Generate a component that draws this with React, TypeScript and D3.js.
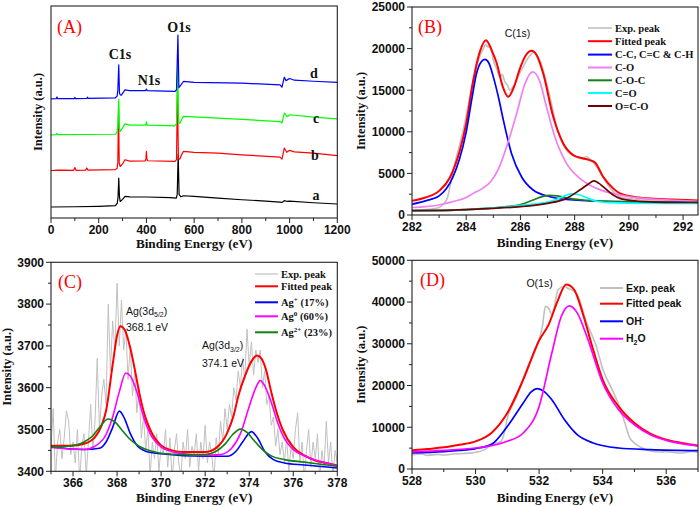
import React from "react";
import * as d3 from "d3";

type Pt = [number, number];

// ---------------- Panel A : survey spectra ----------------
const aXTicks = [0, 200, 400, 600, 800, 1000, 1200];
const aXMinor = [100, 300, 500, 700, 900, 1100];
const aSpecA: Pt[] = [
  [0, 5.2], [100, 5.3], [200, 5.5], [270, 5.8], [278, 7], [281, 10], [284, 18.8], [287, 10], [290, 7.8],
  [300, 8.8], [310, 10.2], [330, 10], [400, 9.9], [500, 9.6], [525, 9.4], [529, 11], [533, 30], [537, 11],
  [545, 10], [555, 10.5], [600, 10.2], [700, 9.4], [800, 8.6], [900, 8], [960, 7.5], [968, 7.3], [978, 8.2],
  [990, 7.8], [1000, 8], [1100, 7.2], [1200, 6.6],
];
const aSpecB: Pt[] = [
  [0, 22.4], [30, 22.6], [95, 22.5], [100, 23.8], [105, 22.5], [145, 22.6], [150, 23.6], [155, 22.6],
  [270, 22.8], [277, 23.5], [280, 26], [283, 52], [286, 26], [290, 24.3], [300, 25.5], [310, 27.5],
  [330, 26.8], [395, 26.9], [398, 28], [400, 31.4], [402, 28], [405, 27], [520, 26.7], [526, 27.5],
  [530, 60], [534, 28], [540, 27.8], [548, 30], [555, 31.4], [600, 31], [700, 30.6], [800, 29.8],
  [960, 28.7], [968, 27.8], [978, 33], [988, 31], [1000, 31.9], [1020, 31.2], [1100, 30.6], [1200, 29.4],
];
const aSpecC: Pt[] = [
  [0, 39.2], [22, 39.3], [25, 39.9], [30, 39.3], [270, 39.5], [277, 40.5], [280, 43], [284, 56], [287, 42],
  [290, 40.8], [300, 42.5], [310, 44.4], [330, 43.8], [397, 43.8], [400, 45.4], [403, 43.8], [520, 43.5],
  [526, 44.5], [531, 72], [535, 45], [540, 44.6], [548, 46.5], [555, 47.9], [700, 47.1], [960, 45.5],
  [968, 44.8], [978, 49.5], [990, 47.8], [1000, 48.7], [1100, 47.6], [1200, 46.8],
];
const aSpecD: Pt[] = [
  [0, 56.2], [22, 56.3], [25, 57.1], [28, 56.3], [98, 56.3], [100, 56.9], [102, 56.3], [150, 56.4],
  [153, 57], [156, 56.4], [270, 56.7], [277, 57.5], [280, 60], [284, 72.2], [287, 59], [290, 58.1],
  [295, 58], [310, 60.4], [330, 60.1], [397, 60.1], [400, 60.8], [403, 60.1], [520, 59.7], [526, 60.5],
  [532, 86.3], [536, 61.5], [545, 62.8], [555, 64.4], [600, 64], [800, 63.6], [960, 62.8], [968, 61.7],
  [978, 66.4], [985, 64.8], [1000, 65.8], [1020, 65], [1100, 64.5], [1200, 64],
];
const aPeakLabels = ["C1s", "N1s", "O1s"];
const aCurveLabels = ["a", "b", "c", "d"];

// ---------------- Panel B : C(1s) ----------------
const bXTicks = [282, 284, 286, 288, 290, 292];
const bXMinor = [283, 285, 287, 289, 291];
const bYTicks = [0, 5000, 10000, 15000, 20000, 25000];
const bYMinor = [2500, 7500, 12500, 17500, 22500];
const bExp: Pt[] = [
  [282, 600], [282.5, 650], [283, 900], [283.15, 1300], [283.3, 2000], [283.52, 5400], [283.89, 10200],
  [284.26, 16200], [284.45, 18600], [284.63, 20000], [284.72, 20500], [284.81, 20200], [284.9, 20300],
  [285.0, 18600], [285.12, 17600], [285.24, 16600], [285.32, 16900], [285.43, 16000], [285.52, 15600],
  [285.61, 15000], [285.7, 15300], [285.8, 15800], [285.95, 16900], [286.1, 17800], [286.25, 18700],
  [286.41, 19400], [286.5, 19600], [286.6, 19200], [286.7, 18700], [286.84, 17400], [287.09, 14200],
  [287.2, 12600], [287.33, 10600], [287.5, 9000], [287.7, 7800], [287.9, 7200], [288.07, 7000],
  [288.25, 6800], [288.44, 7000], [288.6, 6600], [288.81, 5800], [289.0, 4800], [289.18, 3800],
  [289.4, 2900], [289.67, 2200], [290.2, 1900], [291, 1700], [292, 1550], [292.55, 1500],
];
const bFit: Pt[] = [
  [282, 1700], [282.5, 2100], [283, 2900], [283.4, 4500], [283.77, 7800], [284.0, 11000], [284.26, 16200],
  [284.5, 19600], [284.73, 21000], [284.95, 19700], [285.12, 18300], [285.35, 15400], [285.55, 14200],
  [285.75, 15300], [285.98, 17600], [286.2, 19200], [286.41, 19750], [286.6, 19200], [286.84, 17000],
  [287.21, 11800], [287.58, 8600], [287.95, 7200], [288.3, 6800], [288.55, 6600], [288.75, 6300],
  [289.05, 4600], [289.42, 3200], [289.67, 2600], [290.16, 2200], [290.64, 2000], [291.6, 1850],
  [292.55, 1750],
];
const bCC: Pt[] = [
  [282, 1300], [282.5, 1700], [283, 2300], [283.5, 4500], [283.75, 6700], [284.0, 10000], [284.2, 13800],
  [284.38, 17000], [284.55, 18400], [284.69, 18700], [284.83, 18300], [285.0, 16600], [285.2, 14000],
  [285.37, 11400], [285.67, 7400], [286.04, 4600], [286.47, 3000], [287.09, 2200], [287.95, 1800],
  [289.67, 1600], [292.55, 1500],
];
const bCO: Pt[] = [
  [282, 900], [282.5, 1000], [283, 1200], [283.5, 1600], [284, 2100], [284.26, 2600], [284.6, 3200],
  [284.9, 4000], [285.2, 5600], [285.49, 8200], [285.86, 12200], [286.17, 15800], [286.45, 17200],
  [286.72, 16000], [286.96, 13000], [287.27, 9400], [287.7, 6200], [288.19, 4400], [288.81, 3200],
  [289.67, 2400], [290.5, 2000], [291.5, 1800], [292.55, 1650],
];
const bCOC: Pt[] = [
  [282, 500], [283, 530], [284, 650], [285, 850], [285.5, 1000], [286, 1250], [286.47, 1800], [286.8, 2200],
  [287.09, 2350], [287.35, 2300], [287.58, 2150], [288.0, 1900], [288.5, 1750], [289.5, 1600],
  [290.5, 1550], [292.55, 1500],
];
const bCdO: Pt[] = [
  [282, 500], [283, 530], [284, 650], [285, 850], [286, 1150], [286.47, 1300], [287.09, 1600],
  [287.5, 2100], [287.7, 2400], [287.95, 2550], [288.2, 2400], [288.5, 2000], [288.81, 1650],
  [289.3, 1480], [290, 1420], [292.55, 1400],
];
const bOCO: Pt[] = [
  [282, 520], [283, 550], [284, 650], [285, 800], [286, 1000], [286.5, 1150], [287, 1400], [287.7, 2000],
  [288.19, 3000], [288.5, 3700], [288.71, 4100], [288.9, 3800], [289.05, 3400], [289.42, 2400],
  [289.67, 2000], [290.2, 1700], [291, 1550], [292.55, 1500],
];
const bLegend = ["Exp. peak", "Fitted peak", "C-C, C=C & C-H", "C-O", "C-O-C", "C=O", "O=C-O"];

// ---------------- Panel C : Ag(3d) ----------------
const cXTicks = [366, 368, 370, 372, 374, 376, 378];
const cXMinor = [365, 367, 369, 371, 373, 375, 377];
const cYTicks = [3400, 3500, 3600, 3700, 3800, 3900];
const cYMinor = [3450, 3550, 3650, 3750, 3850];
const cExpStart = 365;
const cExpStep = 0.1;
const cExpValues = [
  3460, 3550, 3380, 3470, 3500, 3430, 3480, 3545, 3520, 3440,
  3470, 3420, 3500, 3380, 3460, 3490, 3390, 3470, 3560, 3450,
  3520, 3670, 3500, 3580, 3620, 3560, 3800, 3640, 3760, 3690,
  3850, 3700, 3810, 3690, 3740, 3620, 3700, 3580, 3640, 3540,
  3600, 3480, 3530, 3450, 3500, 3390, 3470, 3430, 3490, 3400,
  3460, 3440, 3500, 3410, 3480, 3380, 3450, 3490, 3420, 3390,
  3470, 3430, 3500, 3410, 3460, 3440, 3490, 3400, 3470, 3430,
  3510, 3420, 3470, 3440, 3380, 3480, 3440, 3520, 3470, 3550,
  3500, 3560, 3530, 3600, 3570, 3640, 3600, 3670, 3620, 3740,
  3650, 3710, 3630, 3690, 3660, 3690, 3600, 3640, 3560, 3580,
  3510, 3530, 3460, 3500, 3440, 3470, 3420, 3480, 3400, 3460,
  3430, 3500, 3540, 3420, 3470, 3380, 3450, 3500, 3410, 3470,
  3430, 3490, 3380, 3450, 3410, 3520, 3420, 3470, 3390, 3450,
  3420,
];
const cFit: Pt[] = [
  [365, 3461], [366, 3462], [366.5, 3466], [367, 3482], [367.3, 3510], [367.5, 3545], [367.8, 3655],
  [368, 3725], [368.15, 3747], [368.35, 3738], [368.6, 3695], [368.8, 3645], [369, 3590], [369.25, 3535],
  [369.5, 3500], [370, 3462], [370.5, 3450], [371, 3446], [372, 3446], [372.5, 3456], [373, 3492],
  [373.3, 3535], [373.5, 3579], [373.8, 3627], [374.1, 3663], [374.35, 3677], [374.55, 3670],
  [374.75, 3645], [375, 3590], [375.25, 3540], [375.5, 3502], [376, 3458], [376.5, 3438], [377, 3426],
  [377.5, 3420], [378, 3414],
];
const cAgPlus: Pt[] = [
  [365, 3458], [366.5, 3452], [367.2, 3455], [367.5, 3470], [367.8, 3505], [368.1, 3544], [368.35, 3525],
  [368.6, 3490], [368.9, 3462], [369.3, 3448], [370, 3442], [372, 3436], [373, 3436], [373.4, 3448],
  [373.7, 3470], [374.1, 3495], [374.4, 3478], [374.7, 3448], [375.1, 3428], [375.6, 3420], [376.5, 3415],
  [378, 3408],
];
const cAgZero: Pt[] = [
  [365, 3457], [366, 3453], [366.5, 3452], [367, 3460], [367.5, 3488], [367.8, 3530], [368.1, 3590],
  [368.4, 3635], [368.6, 3628], [368.9, 3590], [369.2, 3530], [369.5, 3490], [370, 3458], [370.5, 3447],
  [371, 3442], [372, 3438], [372.7, 3440], [373.2, 3455], [373.6, 3490], [374, 3555], [374.3, 3600],
  [374.5, 3617], [374.7, 3605], [375, 3565], [375.3, 3515], [375.6, 3478], [376, 3452], [376.5, 3437],
  [377, 3427], [377.5, 3420], [378, 3413],
];
const cAgTwo: Pt[] = [
  [365, 3458], [365.8, 3460], [366.5, 3470], [366.9, 3485], [367.2, 3505], [367.6, 3525], [367.9, 3518],
  [368.2, 3500], [368.6, 3476], [369, 3460], [369.5, 3449], [370, 3443], [371, 3440], [372, 3440],
  [372.5, 3448], [372.9, 3465], [373.25, 3488], [373.6, 3501], [373.9, 3493], [374.2, 3475], [374.6, 3452],
  [375, 3437], [375.6, 3428], [376.5, 3422], [378, 3412],
];

// ---------------- Panel D : O(1s) ----------------
const dXTicks = [528, 530, 532, 534, 536];
const dXMinor = [529, 531, 533, 535, 537];
const dYTicks = [0, 10000, 20000, 30000, 40000, 50000];
const dYMinor = [5000, 15000, 25000, 35000, 45000];
const dExp: Pt[] = [
  [528, 3430], [528.3, 3600], [528.5, 3270], [528.8, 3500], [529, 3350], [529.3, 3600], [529.5, 3670],
  [529.8, 3800], [530, 4000], [530.3, 4700], [530.5, 5830], [530.8, 6630], [530.9, 8500], [531, 12200],
  [531.3, 17400], [531.6, 23800], [531.8, 27000], [532, 31000], [532.1, 34000], [532.2, 39000],
  [532.3, 38500], [532.4, 37000], [532.6, 43000], [532.8, 43800], [532.9, 43300], [533, 43000],
  [533.2, 41800], [533.5, 35000], [533.8, 29400], [534, 24000], [534.3, 19000], [534.5, 15500],
  [534.7, 11000], [534.85, 7500], [535, 6200], [535.2, 5200], [535.5, 4300], [535.8, 4070], [536, 4150],
  [536.3, 3900], [536.5, 3830], [536.8, 4200], [537, 4000],
];
const dFit: Pt[] = [
  [528, 4470], [528.5, 4800], [529, 5190], [529.5, 5830], [530, 6630], [530.5, 8630], [531, 13400],
  [531.5, 21400], [532, 30800], [532.3, 34600], [532.6, 40600], [532.85, 44200], [533.1, 43000],
  [533.4, 36600], [533.7, 28600], [534, 21400], [534.5, 15000], [535, 11000], [535.5, 8470], [536, 7030],
  [536.5, 6230], [537, 5590],
];
const dOH: Pt[] = [
  [528, 3830], [529, 4150], [529.5, 4450], [530, 4900], [530.5, 5900], [531, 10200], [531.5, 15800],
  [531.75, 18500], [531.95, 19250], [532.15, 18600], [532.4, 16600], [532.8, 11800], [533.2, 8230],
  [533.7, 6230], [534.5, 5030], [535.5, 4630], [537, 4390],
];
const dH2O: Pt[] = [
  [528, 4150], [529, 4470], [530, 5030], [530.5, 5590], [531, 6630], [531.5, 8630], [532, 15000],
  [532.4, 27800], [532.7, 36600], [532.95, 39100], [533.2, 37400], [533.5, 31800], [534, 20600],
  [534.5, 14200], [535, 10600], [535.5, 8230], [536, 6870], [537, 5590],
];

// ---------------- styling ----------------
const SERIF = "'Liberation Serif', 'Times New Roman', serif";
const SANS = "'Liberation Sans', Arial, sans-serif";
const GRAY = "#c0c0c0";

type Series = { data: Pt[]; color: string; width: number; smooth?: boolean };
type PanelCfg = {
  id: string;
  left: number; right: number; top: number; bottom: number;
  xDomain: [number, number]; yDomain: [number, number];
  xTicks: number[]; xMinor: number[];
  yTicks: number[] | null; yMinor: number[] | null;
  series: Series[];
  xTitleY: number; yTitleX: number;
};

function Panel({ cfg }: { cfg: PanelCfg }) {
  const x = d3.scaleLinear().domain(cfg.xDomain).range([cfg.left, cfg.right]);
  const y = d3.scaleLinear().domain(cfg.yDomain).range([cfg.bottom, cfg.top]);
  const clipId = "clip-" + cfg.id;
  const midX = (cfg.left + cfg.right) / 2;
  const midY = (cfg.top + cfg.bottom) / 2;
  return (
    <g>
      <defs>
        <clipPath id={clipId}>
          <rect x={cfg.left} y={cfg.top} width={cfg.right - cfg.left} height={cfg.bottom - cfg.top} />
        </clipPath>
      </defs>
      <g clipPath={`url(#${clipId})`}>
        {cfg.series.map((s, i) => {
          const line = d3
            .line<Pt>()
            .x((d) => x(d[0]))
            .y((d) => y(d[1]))
            .curve(s.smooth ? d3.curveMonotoneX : d3.curveLinear);
          return (
            <path key={i} d={line(s.data) || ""} fill="none" stroke={s.color} strokeWidth={s.width}
              strokeLinejoin="round" strokeLinecap="round" />
          );
        })}
      </g>
      <rect x={cfg.left} y={cfg.top} width={cfg.right - cfg.left} height={cfg.bottom - cfg.top}
        fill="none" stroke="#222" strokeWidth={1.1} />
      {cfg.xTicks.map((t) => (
        <g key={"xt" + t}>
          <line x1={x(t)} x2={x(t)} y1={cfg.bottom} y2={cfg.bottom + 5} stroke="#222" strokeWidth={1} />
          <text x={x(t)} y={cfg.bottom + 16} textAnchor="middle" fontFamily={SANS} fontWeight="bold" fontSize={12} fill="#111">
            {t}
          </text>
        </g>
      ))}
      {cfg.xMinor.map((t) => (
        <line key={"xm" + t} x1={x(t)} x2={x(t)} y1={cfg.bottom} y2={cfg.bottom + 3} stroke="#222" strokeWidth={1} />
      ))}
      {cfg.yTicks &&
        cfg.yTicks.map((t) => (
          <g key={"yt" + t}>
            <line x1={cfg.left - 5} x2={cfg.left} y1={y(t)} y2={y(t)} stroke="#222" strokeWidth={1} />
            <text x={cfg.left - 7} y={y(t) + 4.3} textAnchor="end" fontFamily={SANS} fontWeight="bold" fontSize={12} fill="#111">
              {t}
            </text>
          </g>
        ))}
      {cfg.yMinor &&
        cfg.yMinor.map((t) => (
          <line key={"ym" + t} x1={cfg.left - 3} x2={cfg.left} y1={y(t)} y2={y(t)} stroke="#222" strokeWidth={1} />
        ))}
      <text x={midX} y={cfg.xTitleY} textAnchor="middle" fontFamily={SERIF} fontWeight="bold" fontSize={13.2} fill="#111">
        Binding Energy (eV)
      </text>
      <text transform={`translate(${cfg.yTitleX},${midY}) rotate(-90)`} textAnchor="middle" fontFamily={SERIF}
        fontWeight="bold" fontSize={12.5} fill="#111">
        Intensity (a.u.)
      </text>
    </g>
  );
}

function LegendRow({ x1, x2, y, color, width, font, children }: any) {
  return (
    <g>
      <line x1={x1} x2={x2} y1={y} y2={y} stroke={color} strokeWidth={width} />
      <text x={x2 + 3} y={y + 3.6} fontFamily={font} fontWeight="bold" fontSize={10.5} fill="#111">
        {children}
      </text>
    </g>
  );
}

export default function App() {
  const panelA: PanelCfg = {
    id: "A", left: 51, right: 337.3, top: 6, bottom: 218,
    xDomain: [0, 1200], yDomain: [0, 100],
    xTicks: aXTicks, xMinor: aXMinor, yTicks: null, yMinor: null,
    series: [
      { data: aSpecA, color: "#000000", width: 1.2 },
      { data: aSpecB, color: "#ff0000", width: 1.2 },
      { data: aSpecC, color: "#00ff00", width: 1.2 },
      { data: aSpecD, color: "#0000ff", width: 1.2 },
    ],
    xTitleY: 248, yTitleX: 42,
  };
  const panelB: PanelCfg = {
    id: "B", left: 412, right: 698, top: 7, bottom: 215,
    xDomain: [282, 292.55], yDomain: [0, 25000],
    xTicks: bXTicks, xMinor: bXMinor, yTicks: bYTicks, yMinor: bYMinor,
    series: [
      { data: bExp, color: GRAY, width: 1.6, smooth: true },
      { data: bFit, color: "#ff0000", width: 2, smooth: true },
      { data: bCC, color: "#0000ff", width: 1.7, smooth: true },
      { data: bCO, color: "#f080f0", width: 1.7, smooth: true },
      { data: bCOC, color: "#1a7f1a", width: 1.7, smooth: true },
      { data: bCdO, color: "#00ffff", width: 1.7, smooth: true },
      { data: bOCO, color: "#700000", width: 1.7, smooth: true },
    ],
    xTitleY: 246.5, yTitleX: 364.6,
  };
  const panelC: PanelCfg = {
    id: "C", left: 51, right: 337.3, top: 262.3, bottom: 471.3,
    xDomain: [365, 378], yDomain: [3400, 3900],
    xTicks: cXTicks, xMinor: cXMinor, yTicks: cYTicks, yMinor: cYMinor,
    series: [
      { data: cExpValues.map((v, i) => [cExpStart + i * cExpStep, v] as Pt), color: GRAY, width: 1 },
      { data: cFit, color: "#ff0000", width: 2, smooth: true },
      { data: cAgPlus, color: "#0000ff", width: 1.6, smooth: true },
      { data: cAgZero, color: "#ff00ff", width: 1.6, smooth: true },
      { data: cAgTwo, color: "#118011", width: 1.6, smooth: true },
    ],
    xTitleY: 501.5, yTitleX: 11.3,
  };
  const panelD: PanelCfg = {
    id: "D", left: 412, right: 698, top: 260.3, bottom: 469,
    xDomain: [528, 537], yDomain: [0, 50000],
    xTicks: dXTicks, xMinor: dXMinor, yTicks: dYTicks, yMinor: dYMinor,
    series: [
      { data: dExp, color: GRAY, width: 1.6, smooth: true },
      { data: dFit, color: "#ff0000", width: 2, smooth: true },
      { data: dOH, color: "#0000ff", width: 1.7, smooth: true },
      { data: dH2O, color: "#ff00ff", width: 1.7, smooth: true },
    ],
    xTitleY: 501.5, yTitleX: 364.6,
  };

  const bColors = [GRAY, "#ff0000", "#0000ff", "#f080f0", "#1a7f1a", "#00ffff", "#700000"];
  const bRowY = [28, 41.2, 54.6, 67.5, 80.3, 93, 106];

  return (
    <svg width={700} height={506} style={{ position: "absolute", left: 0, top: 0, background: "#fff" }}>
      <rect x={0} y={0} width={700} height={506} fill="#fff" />
      <Panel cfg={panelA} />
      <Panel cfg={panelB} />
      <Panel cfg={panelC} />
      <Panel cfg={panelD} />

      {/* Panel A annotations */}
      <text x={57} y={33} fontFamily={SERIF} fontSize={18} fill="#ff0000">(A)</text>
      <g fontFamily={SERIF} fontWeight="bold" fontSize={14} fill="#111" textAnchor="middle">
        <text x={120} y={59}>{aPeakLabels[0]}</text>
        <text x={149} y={85}>{aPeakLabels[1]}</text>
        <text x={179} y={32}>{aPeakLabels[2]}</text>
        <text x={316} y={200}>{aCurveLabels[0]}</text>
        <text x={315} y={160}>{aCurveLabels[1]}</text>
        <text x={316} y={123}>{aCurveLabels[2]}</text>
        <text x={314} y={78}>{aCurveLabels[3]}</text>
      </g>

      {/* Panel B annotations */}
      <text x={418} y={33} fontFamily={SERIF} fontSize={18} fill="#ff0000">(B)</text>
      <text x={517.5} y={37} textAnchor="middle" fontFamily={SANS} fontSize={10.5} fill="#111">C(1s)</text>
      {bLegend.map((label, i) => (
        <LegendRow key={label} x1={588} x2={612} y={bRowY[i]} color={bColors[i]} width={i === 0 ? 1.6 : 2} font={SERIF}>
          {label}
        </LegendRow>
      ))}

      {/* Panel C annotations */}
      <text x={58} y={288} fontFamily={SERIF} fontSize={18} fill="#ff0000">(C)</text>
      <g fontFamily={SANS} fontSize={10.5} fill="#111">
        <text x={126} y={314.5}>
          Ag(3d<tspan fontSize={7} dy={2.5}>5/2</tspan><tspan dy={-2.5}>)</tspan>
        </text>
        <text x={126} y={330.5}>368.1 eV</text>
        <text x={202} y={349}>
          Ag(3d<tspan fontSize={7} dy={2.5}>3/2</tspan><tspan dy={-2.5}>)</tspan>
        </text>
        <text x={202} y={366.5}>374.1 eV</text>
      </g>
      <LegendRow x1={255} x2={278} y={274} color={GRAY} width={1.2} font={SERIF}>Exp. peak</LegendRow>
      <LegendRow x1={255} x2={278} y={286.3} color="#ff0000" width={2} font={SERIF}>Fitted peak</LegendRow>
      <LegendRow x1={255} x2={278} y={302.3} color="#0000ff" width={2} font={SERIF}>
        Ag<tspan fontSize={7} dy={-4}>+</tspan><tspan dy={4}> (17%)</tspan>
      </LegendRow>
      <LegendRow x1={255} x2={278} y={316.3} color="#ff00ff" width={2} font={SERIF}>
        Ag<tspan fontSize={7} dy={-4}>0</tspan><tspan dy={4}> (60%)</tspan>
      </LegendRow>
      <LegendRow x1={255} x2={278} y={332.3} color="#118011" width={2} font={SERIF}>
        Ag<tspan fontSize={7} dy={-4}>2+</tspan><tspan dy={4}> (23%)</tspan>
      </LegendRow>

      {/* Panel D annotations */}
      <text x={420} y={286} fontFamily={SERIF} fontSize={18} fill="#ff0000">(D)</text>
      <text x={539.5} y={287} textAnchor="middle" fontFamily={SANS} fontSize={10.5} fill="#111">O(1s)</text>
      <LegendRow x1={600} x2={623} y={288} color={GRAY} width={2} font={SANS}>Exp. peak</LegendRow>
      <LegendRow x1={600} x2={623} y={303.7} color="#ff0000" width={2} font={SANS}>Fitted peak</LegendRow>
      <LegendRow x1={600} x2={623} y={321.3} color="#0000ff" width={2} font={SANS}>
        OH<tspan fontSize={7} dy={-4}>-</tspan>
      </LegendRow>
      <LegendRow x1={600} x2={623} y={338.7} color="#ff00ff" width={2} font={SANS}>
        H<tspan fontSize={7} dy={3}>2</tspan><tspan dy={-3}>O</tspan>
      </LegendRow>
    </svg>
  );
}
